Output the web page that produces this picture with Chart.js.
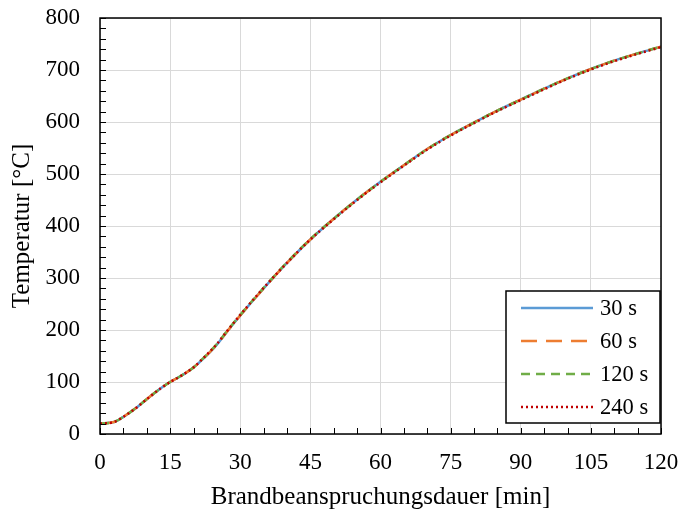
<!DOCTYPE html>
<html>
<head>
<meta charset="utf-8">
<script src="https://cdn.jsdelivr.net/npm/chart.js@4.4.1/dist/chart.umd.min.js"></script>
<style>
  html, body { margin: 0; padding: 0; background: #fff; }
  #wrap { width: 682px; height: 512px; }
</style>
</head>
<body>
<div id="wrap"><canvas id="chart" width="682" height="512"></canvas></div>
<script>
// time [min] and temperature [°C]
const times = [0, 3, 5, 8, 10, 13, 15, 17, 20, 22, 25, 27, 30, 35, 40, 45, 50, 55, 60, 65, 70, 75, 80, 85, 90, 95, 100, 105, 110, 115, 120];
const temp30 = [20, 23, 33, 52, 67, 88, 100, 110, 128, 144, 172, 195, 228, 280, 329, 374, 414, 451, 485, 517, 548, 575, 599, 622, 643, 664, 684, 702, 718, 732, 745];
const temp60 = [20, 23, 33, 52, 67, 88, 100, 110, 128, 144, 172, 195, 228, 280, 329, 374, 414, 451, 485, 517, 548, 575, 599, 622, 643, 664, 684, 702, 718, 732, 745];
const temp120 = [20, 23, 33, 52, 67, 88, 100, 110, 128, 145, 173, 196, 229, 281, 330, 375, 414, 451, 485, 517, 548, 575, 599, 622, 643, 664, 684, 702, 718, 732, 745];
const temp240 = [20, 23, 33, 52, 67, 88, 100, 110, 128, 145, 173, 196, 229, 281, 329, 374, 413, 450, 484, 516, 547, 574, 598, 621, 642, 663, 683, 701, 717, 731, 744];
const seriesLabels = ['30 s', '60 s', '120 s', '240 s'];
const xTicks = [0, 15, 30, 45, 60, 75, 90, 105, 120];
const yTicks = [0, 100, 200, 300, 400, 500, 600, 700, 800];

const FONT = 'Liberation Serif';
const toPts = arr => arr.map((v, i) => ({ x: times[i], y: v }));

const styles = [
  { color: '#5b9bd5', dash: [] },
  { color: '#ed7d31', dash: [16, 9] },
  { color: '#70ad47', dash: [9, 6] },
  { color: '#c00000', dash: [2, 3] }
];

const datasets = [temp30, temp60, temp120, temp240].map((vals, i) => ({
  label: seriesLabels[i],
  data: toPts(vals),
  borderColor: styles[i].color,
  borderDash: styles[i].dash,
  borderWidth: 2.5,
  pointRadius: 0,
  fill: false,
  order: 3 - i, // later series drawn on top
  cubicInterpolationMode: 'monotone'
}));

// frame, inside tick marks and legend box
const framePlugin = {
  id: 'frame',
  afterDraw(chart) {
    const { ctx, chartArea: a, scales } = chart;
    ctx.save();
    ctx.strokeStyle = '#000';
    ctx.lineWidth = 1;
    ctx.beginPath();
    for (let v = 0; v <= 800; v += 20) {
      const y = Math.round(scales.y.getPixelForValue(v)) + 0.5;
      ctx.moveTo(a.left, y);
      ctx.lineTo(a.left + 6, y);
    }
    for (let t = 0; t <= 120; t += 5) {
      const x = Math.round(scales.x.getPixelForValue(t)) + 0.5;
      ctx.moveTo(x, a.bottom);
      ctx.lineTo(x, a.bottom - 6);
    }
    ctx.stroke();
    ctx.lineWidth = 1.5;
    ctx.strokeRect(a.left, a.top, a.right - a.left, a.bottom - a.top);

    // legend
    const bx = 506, by = 291, bw = 154, bh = 132;
    ctx.fillStyle = '#fff';
    ctx.fillRect(bx, by, bw, bh);
    ctx.lineWidth = 1.5;
    ctx.strokeStyle = '#000';
    ctx.strokeRect(bx, by, bw, bh);
    const rows = [308, 341, 374, 407];
    chart.data.datasets.forEach((ds, i) => {
      ctx.beginPath();
      ctx.strokeStyle = ds.borderColor;
      ctx.lineWidth = 2.5;
      ctx.setLineDash(ds.borderDash);
      ctx.moveTo(521, rows[i]);
      ctx.lineTo(593, rows[i]);
      ctx.stroke();
      ctx.setLineDash([]);
      ctx.fillStyle = '#000';
      ctx.font = '22.5px "' + FONT + '"';
      ctx.textBaseline = 'middle';
      ctx.textAlign = 'left';
      ctx.fillText(ds.label, 600, rows[i] + 1);
    });
    ctx.restore();
  }
};

new Chart(document.getElementById('chart'), {
  type: 'line',
  data: { datasets: datasets },
  plugins: [framePlugin],
  options: {
    responsive: false,
    animation: false,
    layout: { padding: { top: 18, right: 21, left: 0, bottom: 0 } },
    plugins: {
      legend: { display: false },
      tooltip: { enabled: false }
    },
    scales: {
      x: {
        type: 'linear',
        min: 0,
        max: 120,
        afterBuildTicks: s => { s.ticks = xTicks.map(v => ({ value: v })); },
        afterFit: s => { s.height = 78; s.paddingLeft = 0; s.paddingRight = 0; },
        grid: { color: '#d9d9d9', lineWidth: 1, drawTicks: false },
        border: { display: false },
        ticks: { color: '#000', padding: 15, maxRotation: 0, font: { family: FONT, size: 23 } },
        title: {
          display: true,
          text: 'Brandbeanspruchungsdauer [min]',
          color: '#000',
          font: { family: FONT, size: 25 },
          padding: { top: 0, bottom: 0 }
        }
      },
      y: {
        min: 0,
        max: 800,
        afterBuildTicks: s => { s.ticks = yTicks.map(v => ({ value: v })); },
        afterFit: s => { s.width = 100; s.paddingTop = 0; s.paddingBottom = 0; },
        grid: { color: '#d9d9d9', lineWidth: 1, drawTicks: false },
        border: { display: false },
        ticks: { color: '#000', padding: 20, font: { family: FONT, size: 23 } },
        title: {
          display: true,
          text: 'Temperatur [°C]',
          color: '#000',
          font: { family: FONT, size: 25 },
          padding: { top: 7, bottom: 0 }
        }
      }
    }
  }
});
</script>
</body>
</html>
